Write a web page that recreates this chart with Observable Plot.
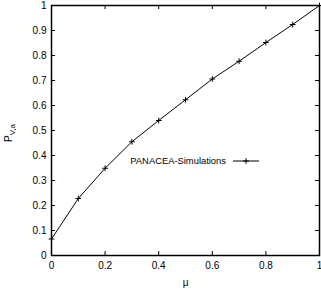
<!DOCTYPE html>
<html>
<head>
<meta charset="utf-8">
<script src="https://cdn.jsdelivr.net/npm/d3@7"></script>
<script src="https://cdn.jsdelivr.net/npm/@observablehq/plot@0.6"></script>
<style>
  html, body { margin: 0; padding: 0; background: #fff; }
  #chart { width: 321px; height: 299px; }
</style>
</head>
<body>
<div id="chart"></div>
<script>
const mu = [0, 0.1, 0.2, 0.3, 0.4, 0.5, 0.6, 0.7, 0.8, 0.9, 1.0];
const pva = [0.066, 0.228, 0.349, 0.455, 0.540, 0.623, 0.706, 0.777, 0.852, 0.924, 1.0];
const xTicks = [0, 0.2, 0.4, 0.6, 0.8, 1];
const xTickLabels = ["0", "0.2", "0.4", "0.6", "0.8", "1"];
const yTicks = [0, 0.1, 0.2, 0.3, 0.4, 0.5, 0.6, 0.7, 0.8, 0.9, 1];
const yTickLabels = ["0", "0.1", "0.2", "0.3", "0.4", "0.5", "0.6", "0.7", "0.8", "0.9", "1"];
const seriesName = "PANACEA-Simulations";
const xLabel = "μ";

const data = mu.map((m, i) => ({mu: m, p: pva[i]}));

const W = 321, H = 299;
const mL = 51, mR = 2, mT = 5, mB = 44;
const pw = W - mL - mR, ph = H - mT - mB;
const tl = 4;
const plusR = 2;

const chart = Plot.plot({
  width: W, height: H,
  marginLeft: mL, marginRight: mR, marginTop: mT, marginBottom: mB,
  style: {fontFamily: "'Liberation Sans', Arial, sans-serif", fontSize: "10px", background: "#fff", color: "#000"},
  x: {domain: [0, 1], label: null},
  y: {domain: [0, 1], label: null},
  marks: [
    Plot.axisX(xTicks, {tickSize: 0, tickPadding: 6, tickFormat: (d, i) => xTickLabels[i], fill: "#000", label: null}),
    Plot.axisY(yTicks, {tickSize: 0, tickPadding: 5, tickFormat: (d, i) => yTickLabels[i], fill: "#000", label: null}),
    Plot.tickX(xTicks, {x: d => d, insetTop: ph - tl, stroke: "#000"}),
    Plot.tickX(xTicks, {x: d => d, insetBottom: ph - tl, stroke: "#000"}),
    Plot.tickY(yTicks, {y: d => d, insetRight: pw - tl, stroke: "#000"}),
    Plot.tickY(yTicks, {y: d => d, insetLeft: pw - tl, stroke: "#000"}),
    Plot.line(data, {x: "mu", y: "p", stroke: "#000", strokeWidth: 1}),
    Plot.dot(data, {x: "mu", y: "p", symbol: "plus", r: plusR, stroke: "#000", strokeWidth: 1}),
    Plot.text([xLabel], {frameAnchor: "bottom", dy: 30, fill: "#000", fontSize: 10}),
    Plot.frame({stroke: "#000", strokeWidth: 1.5})
  ]
});
document.getElementById("chart").appendChild(chart);

const svg = d3.select(chart);
// y label P_{V,a}
const yl = svg.append("text")
  .attr("transform", "translate(12,133) rotate(-90)")
  .attr("text-anchor", "middle")
  .attr("font-family", "'Liberation Sans', Arial, sans-serif")
  .attr("font-size", 10)
  .style("fill", "#000");
yl.append("tspan").style("fill", "#000").text("P");
yl.append("tspan").style("fill", "#000").attr("font-size", 8).attr("dy", 3).text("V,a");

// legend
const lg = svg.append("g").attr("font-family", "'Liberation Sans', Arial, sans-serif").attr("font-size", 9.4);
lg.append("text").attr("x", 226).attr("y", 161).attr("dy", "0.35em").attr("text-anchor", "end").style("fill", "#000").text(seriesName);
lg.append("line").attr("x1", 233).attr("x2", 259).attr("y1", 161).attr("y2", 161).attr("stroke", "#000");
lg.append("path").attr("d", d3.symbol(d3.symbolPlus, Math.PI * plusR * plusR)()).attr("transform", "translate(246,161)").attr("fill", "none").attr("stroke", "#000");
</script>
</body>
</html>
